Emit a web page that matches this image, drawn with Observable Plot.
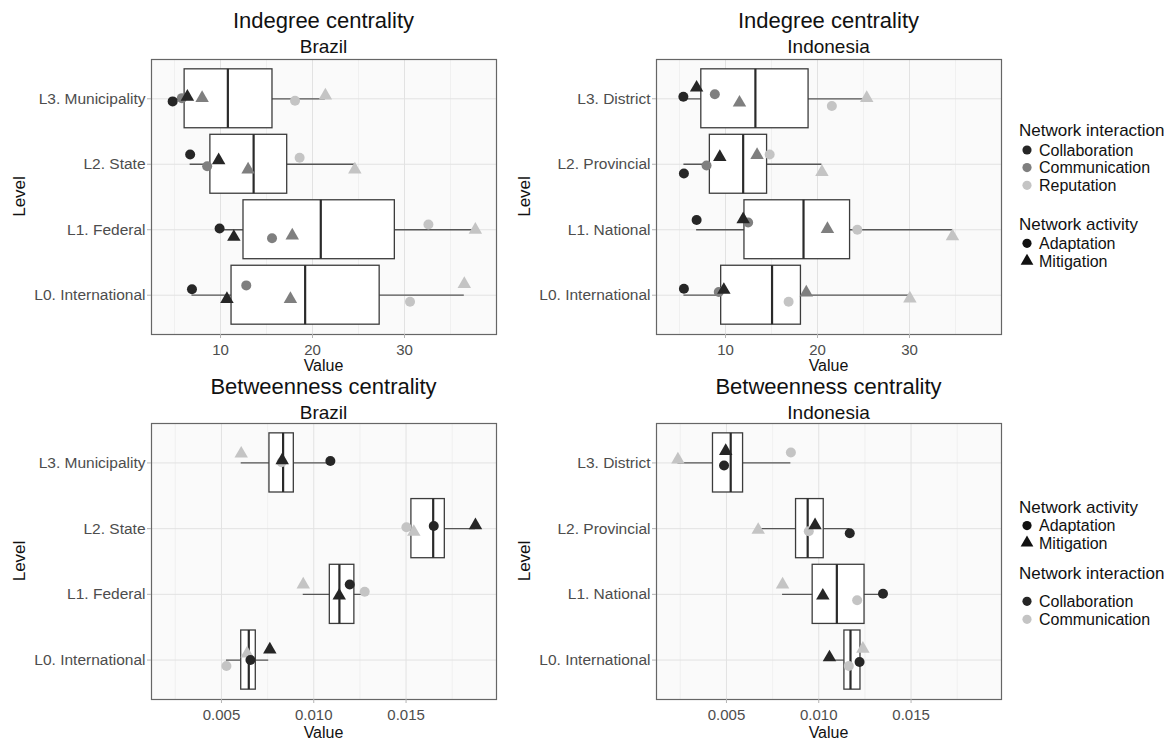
<!DOCTYPE html>
<html><head><meta charset="utf-8">
<script src="https://cdn.jsdelivr.net/npm/d3@7"></script>
<script src="https://cdn.jsdelivr.net/npm/@observablehq/plot@0.6"></script>
<style>
body{margin:0;background:#fff;font-family:"Liberation Sans",Arial,sans-serif;}
#root{position:relative;width:1172px;height:741px;overflow:hidden;background:#fff;}
#root > svg, #root > figure{position:absolute;margin:0;}
</style></head><body><div id="root"></div>
<script>
// ---------- categories ----------
const ACTIVITIES = ["Adaptation", "Mitigation"];
const INTERACTIONS3 = ["Collaboration", "Communication", "Reputation"];
const INTERACTIONS2 = ["Collaboration", "Communication"];
const levelsBrazil = ["L0. International", "L1. Federal", "L2. State", "L3. Municipality"];
const levelsIndonesia = ["L0. International", "L1. National", "L2. Provincial", "L3. District"];

// ---------- tick labels ----------
const indegreeTicks = [10, 20, 30];
const indegreeMinor = [5, 15, 25, 35];
const betweenTicks = [0.005, 0.010, 0.015];
const betweenMinor = [0.0025, 0.0075, 0.0125, 0.0175];

// ---------- point values: [levelIndex, interaction, activity, value, jitter] ----------
const indegreeBrazilPoints = [
  [0,"Collaboration","Adaptation",6.9,0.09],
  [0,"Collaboration","Mitigation",10.7,-0.06],
  [0,"Communication","Adaptation",12.8,0.15],
  [0,"Communication","Mitigation",17.6,-0.06],
  [0,"Reputation","Adaptation",30.6,-0.10],
  [0,"Reputation","Mitigation",36.5,0.17],
  [1,"Collaboration","Adaptation",9.9,0.02],
  [1,"Collaboration","Mitigation",11.45,-0.11],
  [1,"Communication","Adaptation",15.6,-0.13],
  [1,"Communication","Mitigation",17.8,-0.09],
  [1,"Reputation","Adaptation",32.6,0.08],
  [1,"Reputation","Mitigation",37.7,0.0],
  [2,"Collaboration","Adaptation",6.7,0.15],
  [2,"Collaboration","Mitigation",9.8,0.06],
  [2,"Communication","Adaptation",8.55,-0.03],
  [2,"Communication","Mitigation",13.0,-0.08],
  [2,"Reputation","Adaptation",18.6,0.10],
  [2,"Reputation","Mitigation",24.6,-0.08],
  [3,"Collaboration","Adaptation",4.8,-0.04],
  [3,"Collaboration","Mitigation",6.4,0.03],
  [3,"Communication","Adaptation",5.8,0.01],
  [3,"Communication","Mitigation",8.0,0.01],
  [3,"Reputation","Adaptation",18.1,-0.03],
  [3,"Reputation","Mitigation",21.4,0.05]
];
const indegreeIndonesiaPoints = [
  [0,"Collaboration","Adaptation",5.48,0.10],
  [0,"Collaboration","Mitigation",9.82,0.08],
  [0,"Communication","Adaptation",9.27,0.05],
  [0,"Communication","Mitigation",18.78,0.04],
  [0,"Reputation","Adaptation",16.86,-0.10],
  [0,"Reputation","Mitigation",30.04,-0.05],
  [1,"Collaboration","Adaptation",6.86,0.15],
  [1,"Collaboration","Mitigation",11.92,0.16],
  [1,"Communication","Adaptation",12.46,0.11],
  [1,"Communication","Mitigation",21.08,0.01],
  [1,"Reputation","Adaptation",24.33,0.0],
  [1,"Reputation","Mitigation",34.67,-0.10],
  [2,"Collaboration","Adaptation",5.48,-0.14],
  [2,"Collaboration","Mitigation",9.38,0.11],
  [2,"Communication","Adaptation",7.94,-0.02],
  [2,"Communication","Mitigation",13.43,0.14],
  [2,"Reputation","Adaptation",14.8,0.15],
  [2,"Reputation","Mitigation",20.48,-0.12],
  [3,"Collaboration","Adaptation",5.42,0.03],
  [3,"Collaboration","Mitigation",6.86,0.17],
  [3,"Communication","Adaptation",8.84,0.07],
  [3,"Communication","Mitigation",11.52,-0.06],
  [3,"Reputation","Adaptation",21.56,-0.11],
  [3,"Reputation","Mitigation",25.35,0.01]
];
const betweenBrazilPoints = [
  [0,"Collaboration","Adaptation",0.00657,0.0],
  [0,"Collaboration","Mitigation",0.00762,0.16],
  [0,"Communication","Adaptation",0.00527,-0.09],
  [0,"Communication","Mitigation",0.00639,0.10],
  [1,"Collaboration","Adaptation",0.01195,0.15],
  [1,"Collaboration","Mitigation",0.01138,-0.02],
  [1,"Communication","Adaptation",0.01276,0.04],
  [1,"Communication","Mitigation",0.00943,0.15],
  [2,"Collaboration","Adaptation",0.01650,0.04],
  [2,"Collaboration","Mitigation",0.01876,0.05],
  [2,"Communication","Adaptation",0.01502,0.02],
  [2,"Communication","Mitigation",0.01542,-0.05],
  [3,"Collaboration","Adaptation",0.01090,0.03],
  [3,"Collaboration","Mitigation",0.00829,0.04],
  [3,"Communication","Adaptation",0.00826,0.01],
  [3,"Communication","Mitigation",0.00607,0.14]
];
const betweenIndonesiaPoints = [
  [0,"Collaboration","Adaptation",0.01221,-0.03],
  [0,"Collaboration","Mitigation",0.01058,0.04],
  [0,"Communication","Adaptation",0.01163,-0.09],
  [0,"Communication","Mitigation",0.01239,0.17],
  [1,"Collaboration","Adaptation",0.01348,0.01],
  [1,"Collaboration","Mitigation",0.01022,-0.02],
  [1,"Communication","Adaptation",0.01208,-0.09],
  [1,"Communication","Mitigation",0.00804,0.15],
  [2,"Collaboration","Adaptation",0.01168,-0.07],
  [2,"Collaboration","Mitigation",0.00980,0.05],
  [2,"Communication","Adaptation",0.00946,-0.04],
  [2,"Communication","Mitigation",0.00672,-0.02],
  [3,"Collaboration","Adaptation",0.00487,-0.04],
  [3,"Collaboration","Mitigation",0.00496,0.18],
  [3,"Communication","Adaptation",0.00849,0.16],
  [3,"Communication","Mitigation",0.00237,0.05]
];

// ---------- box statistics: [levelIndex, lowerWhisker, q1, median, q3, upperWhisker] ----------
const indegreeBrazilBoxes = [
  [0, 6.9, 11.2, 19.2, 27.3, 36.5],
  [1, 9.9, 12.5, 20.9, 28.95, 37.7],
  [2, 6.7, 8.9, 13.6, 17.25, 24.6],
  [3, 4.8, 6.1, 10.8, 15.65, 21.4]
];
const indegreeIndonesiaBoxes = [
  [0, 5.48, 9.53, 15.06, 18.2, 30.04],
  [1, 6.86, 12.06, 18.48, 23.54, 34.67],
  [2, 5.48, 8.3, 11.92, 14.52, 20.48],
  [3, 5.42, 7.37, 13.25, 19.03, 25.35]
];
const betweenBrazilBoxes = [
  [0, 0.00527, 0.00607, 0.00648, 0.00686, 0.00756],
  [1, 0.00943, 0.01087, 0.01139, 0.01220, 0.01276],
  [2, 0.01502, 0.01529, 0.01647, 0.01710, 0.01876],
  [3, 0.00607, 0.00760, 0.00834, 0.00892, 0.01090]
];
const betweenIndonesiaBoxes = [
  [0, 0.01058, 0.01139, 0.01172, 0.01226, 0.01239],
  [1, 0.00804, 0.00967, 0.01098, 0.01248, 0.01348],
  [2, 0.00686, 0.00877, 0.00940, 0.01027, 0.01168],
  [3, 0.00237, 0.00427, 0.00523, 0.00590, 0.00849]
];

const greys3 = ["#262626", "#7f7f7f", "#c4c4c4"];
const greys2 = ["#262626", "#c4c4c4"];

const FONT = "'Liberation Sans', Arial, sans-serif";
const root = document.getElementById("root");

function panel(o) {
  const order = o.interactions;
  const pts = o.points.slice().sort((a, b) => order.indexOf(b[1]) - order.indexOf(a[1]));
  const chart = Plot.plot({
    width: 500, height: o.height,
    marginLeft: 151, marginRight: 4, marginTop: o.marginTop, marginBottom: o.marginBottom,
    style: {fontFamily: FONT, fontSize: "15px", background: "transparent", overflow: "visible"},
    x: {domain: o.domain, label: null},
    y: {domain: [-0.6, 3.6], label: null},
    color: {type: "ordinal", domain: o.interactions, range: o.colors},
    symbol: {domain: ACTIVITIES, range: ["circle", "triangle"]},
    marks: [
      Plot.frame({fill: "#fafafa", stroke: "none"}),
      Plot.ruleX(o.minor, {stroke: "#ededed", strokeWidth: 0.8}),
      Plot.ruleX(o.ticks, {stroke: "#e2e2e2", strokeWidth: 1}),
      Plot.ruleY([0, 1, 2, 3], {stroke: "#e2e2e2", strokeWidth: 1}),
      Plot.ruleY(o.boxes, {y: d => d[0], x1: d => d[1], x2: d => d[5], stroke: "#555", strokeWidth: 1.3}),
      Plot.rect(o.boxes, {x1: d => d[2], x2: d => d[4], y1: d => d[0] - 0.45, y2: d => d[0] + 0.45,
        fill: "white", stroke: "#3c3c3c", strokeWidth: 1.3}),
      Plot.ruleX(o.boxes, {x: d => d[3], y1: d => d[0] - 0.45, y2: d => d[0] + 0.45, stroke: "#2a2a2a", strokeWidth: 2.2}),
      Plot.dot(pts, {x: d => d[3], y: d => d[0] + d[4], fill: d => d[1], symbol: d => d[2], r: 5, stroke: "none"}),
      Plot.frame({stroke: "#666", strokeWidth: 1.2}),
      Plot.axisX({ticks: o.ticks, tickFormat: o.tickFormat, tickSize: 4, tickPadding: 6,
        fill: "#4d4d4d", stroke: "#b3b3b3", fontSize: 15, label: null}),
      Plot.axisY({ticks: [0, 1, 2, 3], tickFormat: i => o.levels[i], tickSize: 4, tickPadding: 2,
        fill: "#4d4d4d", stroke: "#b3b3b3", fontSize: 15.5, label: null})
    ]
  });
  chart.style.position = "absolute";
  chart.style.left = o.left + "px";
  chart.style.top = o.top + "px";
  root.appendChild(chart);
}

const fmtInt = d3.format("d");
const fmt3 = d3.format(".3f");

panel({points: indegreeBrazilPoints, boxes: indegreeBrazilBoxes, levels: levelsBrazil,
  interactions: INTERACTIONS3, colors: greys3, domain: [2.5, 40], ticks: indegreeTicks, minor: indegreeMinor,
  tickFormat: fmtInt, left: 0, top: 0, height: 370, marginTop: 59, marginBottom: 36});
panel({points: indegreeIndonesiaPoints, boxes: indegreeIndonesiaBoxes, levels: levelsIndonesia,
  interactions: INTERACTIONS3, colors: greys3, domain: [2.5, 40], ticks: indegreeTicks, minor: indegreeMinor,
  tickFormat: fmtInt, left: 505, top: 0, height: 370, marginTop: 59, marginBottom: 36});
panel({points: betweenBrazilPoints, boxes: betweenBrazilBoxes, levels: levelsBrazil,
  interactions: INTERACTIONS2, colors: greys2, domain: [0.00121, 0.0199], ticks: betweenTicks, minor: betweenMinor,
  tickFormat: fmt3, left: 0, top: 367, height: 371, marginTop: 56, marginBottom: 39});
panel({points: betweenIndonesiaPoints, boxes: betweenIndonesiaBoxes, levels: levelsIndonesia,
  interactions: INTERACTIONS2, colors: greys2, domain: [0.00121, 0.0199], ticks: betweenTicks, minor: betweenMinor,
  tickFormat: fmt3, left: 505, top: 367, height: 371, marginTop: 56, marginBottom: 39});

// ---------- overlay texts: titles, axis titles, legends ----------
const svg = d3.select(root).append("svg")
  .attr("width", 1172).attr("height", 741)
  .style("left", "0px").style("top", "0px").style("pointer-events", "none")
  .style("font-family", FONT);

function txt(x, y, s, size, opts = {}) {
  const t = svg.append("text").attr("x", x).attr("y", y).attr("font-size", size)
    .attr("fill", opts.fill || "#111").attr("text-anchor", opts.anchor || "middle").text(s);
  if (opts.rotate) t.attr("transform", `rotate(-90 ${x} ${y})`);
  return t;
}

const panelCentersX = [323.5, 828.5];
const titleRows = [
  {title: "Indegree centrality", y1: 28.3, y2: 53, value: 370.5, levelY: 196.5},
  {title: "Betweenness centrality", y1: 394, y2: 418.5, value: 737.5, levelY: 561}
];
const countries = ["Brazil", "Indonesia"];
titleRows.forEach(r => {
  panelCentersX.forEach((cx, i) => {
    txt(cx, r.y1, r.title, 22);
    txt(cx, r.y2, countries[i], 19);
    txt(cx, r.value, "Value", 16);
    txt(25 + i * 505, r.levelY, "Level", 17, {rotate: true});
  });
});

function legend(x, titleBaseline, title, items) {
  txt(x, titleBaseline, title, 17, {anchor: "start"});
  items.forEach(it => {
    const cy = it.y - 5.7;
    const sym = it.shape === "triangle" ? d3.symbolTriangle : d3.symbolCircle;
    const size = it.shape === "triangle" ? 70 : 66;
    svg.append("path").attr("d", d3.symbol(sym, size)())
      .attr("transform", `translate(${x + 8},${cy})`).attr("fill", it.color);
    txt(x + 20, it.y, it.label, 16, {anchor: "start"});
  });
}

legend(1019, 136, "Network interaction", [
  {label: INTERACTIONS3[0], y: 155.7, shape: "circle", color: greys3[0]},
  {label: INTERACTIONS3[1], y: 173.3, shape: "circle", color: greys3[1]},
  {label: INTERACTIONS3[2], y: 191, shape: "circle", color: greys3[2]}
]);
legend(1019, 230, "Network activity", [
  {label: ACTIVITIES[0], y: 249, shape: "circle", color: "#111"},
  {label: ACTIVITIES[1], y: 266.7, shape: "triangle", color: "#111"}
]);
legend(1019, 513, "Network activity", [
  {label: ACTIVITIES[0], y: 531.3, shape: "circle", color: "#111"},
  {label: ACTIVITIES[1], y: 548.5, shape: "triangle", color: "#111"}
]);
legend(1019, 578.7, "Network interaction", [
  {label: INTERACTIONS2[0], y: 607, shape: "circle", color: greys2[0]},
  {label: INTERACTIONS2[1], y: 625, shape: "circle", color: greys2[1]}
]);
</script>
</body></html>
